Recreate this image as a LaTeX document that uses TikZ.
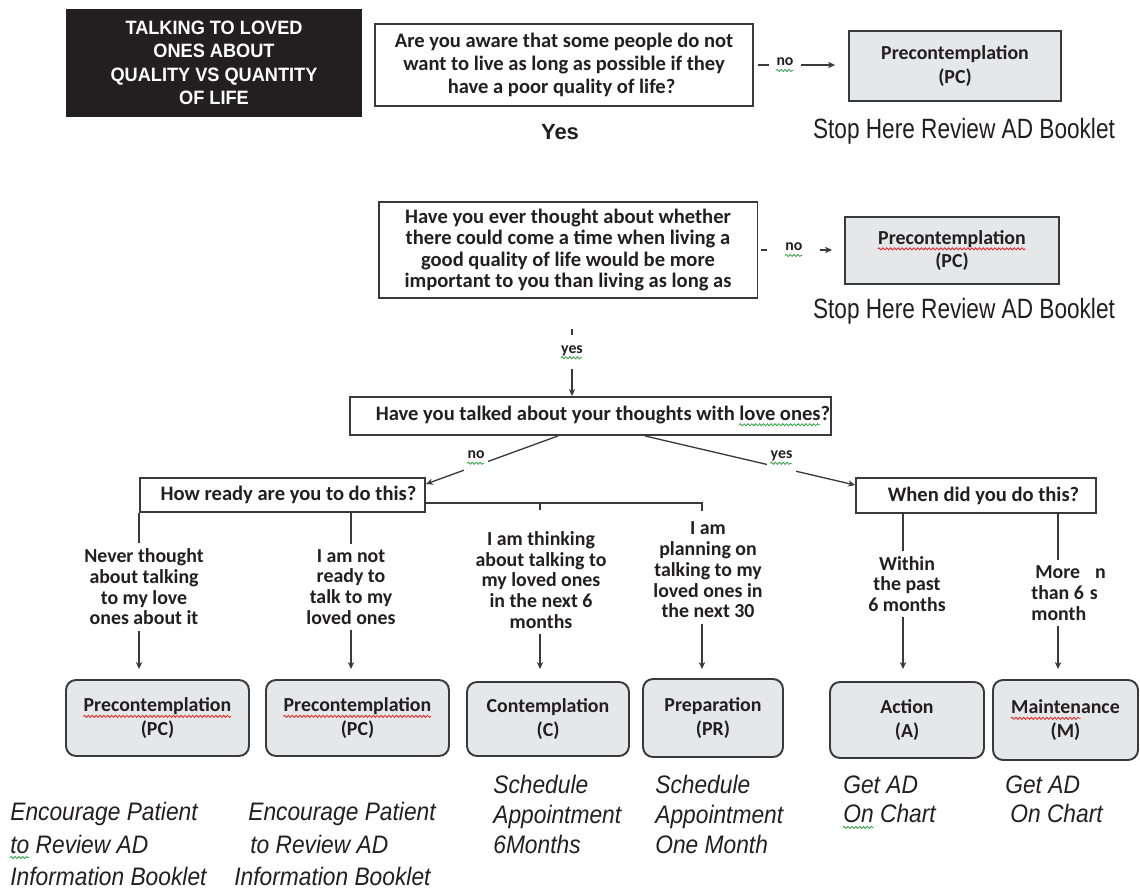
\documentclass[tikz,border=0pt]{standalone}
\usepackage{fontspec}
\usetikzlibrary{arrows.meta,calc,decorations.pathmorphing}
\setmainfont{Carlito}
\newfontfamily\narrowfont[FakeStretch=0.81]{Liberation Sans}
\newfontfamily\titlefont[FakeStretch=0.94]{Liberation Sans}
\newfontfamily\itfont[FakeStretch=0.9]{Liberation Sans}
\newfontfamily\arialfont{Liberation Sans}
\definecolor{ink}{HTML}{231F20}
\definecolor{edge}{HTML}{3A3A3A}
\definecolor{stagefill}{HTML}{E6E7E8}
\definecolor{squigred}{HTML}{E02020}
\definecolor{squiggreen}{HTML}{2E9E3E}
\newsavebox\sqbox
\newcommand\sqline[2]{\sbox\sqbox{#2}\usebox\sqbox\llap{\tikz[baseline=0pt]\draw[draw=#1,line width=0.45pt,sharp corners,solid,-,shorten <=0pt,shorten >=0pt,decorate,decoration={snake,amplitude=0.6pt,segment length=2.2pt}] (0pt,-2.6pt) -- (\wd\sqbox,-2.6pt);}}
\newcommand\redsq[1]{\sqline{squigred}{#1}}
\newcommand\greensq[1]{\sqline{squiggreen}{#1}}
\begin{document}
\begin{tikzpicture}[x=0.02cm,y=-0.02cm,
  every node/.style={text=ink},
  qbox/.style={draw=edge,line width=1.1pt,fill=white,align=center,inner sep=0pt,
     font=\fontsize{11.7}{13.1}\selectfont\bfseries},
  pcbox/.style={draw=edge,line width=1.1pt,fill=stagefill,align=center,inner sep=0pt,
     font=\fontsize{11.3}{13.3}\selectfont\bfseries},
  stagebox/.style={pcbox,rounded corners=0.2cm},
  conn/.style={draw=edge,line width=0.75pt},
  arr/.style={conn,-{Stealth[length=4pt,width=3.6pt]}},
  lbl/.style={fill=white,font=\fontsize{9}{10}\selectfont\bfseries},
  optlbl/.style={align=center,inner xsep=0pt,inner ysep=3pt,font=\fontsize{11.3}{11.8}\selectfont\bfseries},
  stoptext/.style={font=\narrowfont\fontsize{15.9}{18}\selectfont},
  note/.style={anchor=north west,align=left,inner sep=0pt,font=\itfont\itshape\fontsize{14.4}{18.4}\selectfont},
  notetwo/.style={note,font=\itfont\itshape\fontsize{14.4}{17}\selectfont},
]
\fill[white] (0,0) rectangle (1140,891);
\useasboundingbox (0,0) rectangle (1140,891);

% top row
\node[fill=ink, minimum width=5.92cm, minimum height=2.16cm, align=center, text=white,
  font=\titlefont\bfseries\fontsize{11}{13.4}\selectfont] (title) at (214,63)
  {TALKING TO LOVED\\ONES ABOUT\\QUALITY VS QUANTITY\\OF LIFE};
\node[qbox, minimum width=7.56cm, minimum height=1.64cm] (q1) at (564,65)
  {\rule{0pt}{0.1cm}Are you aware that some people do not\\want to live as long as possible if they\\have a poor quality of life?\hspace*{0.1cm}};
\node[pcbox, minimum width=4.24cm, minimum height=1.4cm] (pc1) at (955,66) {Precontemplation\\(PC)};
\node[font=\arialfont\bfseries\fontsize{12.5}{14}\selectfont] (yes1) at (560,132) {Yes};
\node[stoptext] (stop1) at (964,131) {Stop Here Review AD Booklet};

% second row
\node[qbox, minimum width=7.58cm, minimum height=1.92cm, font=\fontsize{11.7}{12}\selectfont\bfseries] (q2) at (568,250)
  {\rule{0pt}{0.1cm}Have you ever thought about whether\\there could come a time when living a\\good quality of life would be more\\important to you than living as long as};
\node[pcbox, minimum width=4.28cm, minimum height=1.34cm] (pc2) at (952,250.5) {\redsq{Precontemplation}\\(PC)};
\node[stoptext] (stop2) at (964,311) {Stop Here Review AD Booklet};

% third question
\node[qbox, minimum width=9.62cm, minimum height=0.76cm] (q3) at (590.5,416)
  {\hspace*{0.5cm}Have you talked about your thoughts with \greensq{love ones}?};
\node[qbox, minimum width=5.7cm, minimum height=0.68cm] (hr) at (282.5,495)
  {\hspace*{0.24cm}How ready are you to do this?};
\node[qbox, minimum width=4.8cm, minimum height=0.7cm] (when) at (976,495.5)
  {\hspace*{0.3cm}When did you do this?};

% stage boxes
\node[stagebox, minimum width=3.66cm, minimum height=1.52cm] (sa) at (157.5,718) {\redsq{Precontemplation}\\(PC)};
\node[stagebox, minimum width=3.66cm, minimum height=1.52cm] (sb) at (357.5,718) {\redsq{Precontemplation}\\(PC)};
\node[stagebox, minimum width=3.24cm, minimum height=1.48cm] (sc) at (548,719) {Contemplation\\(C)};
\node[stagebox, minimum width=2.8cm, minimum height=1.56cm] (sp) at (713,718) {Preparation\\(PR)};
\node[stagebox, minimum width=3.08cm, minimum height=1.52cm] (sac) at (907,720) {Action\\(A)};
\node[stagebox, minimum width=2.9cm, minimum height=1.6cm] (sm) at (1065.5,720) {\redsq{Mainten}ance\\(M)};

% option labels
\node[optlbl] (l1) at (144,587) {Never thought\\about talking\\to my love\\ones about it};
\node[optlbl] (l2) at (351,587) {I am not\\ready to\\talk to my\\loved ones};
\node[optlbl] (l3) at (541,580) {I am thinking\\about talking to\\my loved ones\\in the next 6\\months};
\node[optlbl] (l4) at (708,570) {I am\\planning on\\talking to my\\loved ones in\\the next 30};
\node[optlbl] (l5) at (907,584) {Within\\the past\\6 months};
\node[optlbl, align=left, anchor=west] (l6) at (1031,593) {\hspace*{0.08cm}More\hspace{0.3cm}n\\than 6\hspace{0.12cm}s\\month};

% branch coordinates
\coordinate (bx1) at (140,0);
\coordinate (bx2) at (351,0);
\coordinate (bx3) at (540,0);
\coordinate (bx4) at (702,0);
\coordinate (bx5) at (903,0);
\coordinate (bx6) at (1058,0);
\coordinate (hj) at ([yshift=-0.16cm]hr.east);
\coordinate (t3e) at (540,510);
\coordinate (t4e) at (702,511);

% connectors, top
\draw[arr, shorten <=0.08cm, shorten >=0.26cm] (q1.east) -- (q1.east -| pc1.west)
  node[lbl, pos=0.33, inner xsep=0.16cm, inner ysep=1pt]{\greensq{no}};
\draw[arr, shorten <=0.06cm, shorten >=0.24cm] (q2.east) -- (q2.east -| pc2.west)
  node[lbl, pos=0.415, inner xsep=0.36cm, inner ysep=1pt]{\greensq{no}};
\draw[arr, shorten <=0.6cm] ([xshift=0.08cm]q2.south) -- ([xshift=0.08cm]q2.south |- q3.north)
  node[lbl, pos=0.55, inner xsep=2pt, inner ysep=0.2cm]{\greensq{yes}};

% from question 3
\draw[arr] ([xshift=-0.65cm]q3.south) -- ([yshift=-0.14cm]hr.north east)
  node[lbl, pos=0.62, yshift=0.16cm, inner xsep=2pt, inner ysep=4pt]{\greensq{no}};
\draw[arr] ([xshift=1.09cm]q3.south) -- ([yshift=-0.16cm]when.north west)
  node[lbl, pos=0.65, yshift=0.2cm, inner xsep=2pt, inner ysep=4.5pt]{\greensq{yes}};

% readiness branches
\draw[conn] (hj) -- (hj -| bx4) -- (t4e);
\draw[conn] (hj -| bx3) -- (t3e);
\draw[conn] (hr.south west) -- (l1.north -| hr.south west);
\draw[arr, shorten >=0.2cm] (l1.south -| hr.south west) -- (sa.north -| hr.south west);
\draw[conn] (hr.south -| bx2) -- (l2.north -| bx2);
\draw[arr, shorten >=0.2cm] (l2.south -| bx2) -- (sb.north -| bx2);
\draw[arr, shorten >=0.24cm] (l3.south -| bx3) -- (sc.north -| bx3);
\draw[arr, shorten >=0.18cm] (l4.south -| bx4) -- (sp.north -| bx4);

% when branches
\draw[conn] (when.south -| bx5) -- (l5.north -| bx5);
\draw[arr, shorten >=0.24cm] (l5.south -| bx5) -- (sac.north -| bx5);
\draw[conn] (when.south -| bx6) -- (l6.north -| bx6);
\draw[arr, shorten >=0.2cm] (l6.south -| bx6) -- (sm.north -| bx6);

% notes
\node[note] (n1) at (10,802) {Encourage Patient\\\greensq{to} Review AD\\Information Booklet};
\node[note] (n2) at (234,802) {\hspace*{0.28cm}Encourage Patient\\\hspace*{0.32cm}to Review AD\\Information Booklet};
\node[notetwo] (n3) at (493,775) {Schedule\\Appointment\\6Months};
\node[notetwo] (n4) at (655,775) {Schedule\\Appointment\\One Month};
\node[notetwo] (n5) at (843,775) {Get AD\\\greensq{On} Chart};
\node[notetwo] (n6) at (1005,775) {Get AD\\\hspace*{0.1cm}On Chart};
\end{tikzpicture}
\end{document}
